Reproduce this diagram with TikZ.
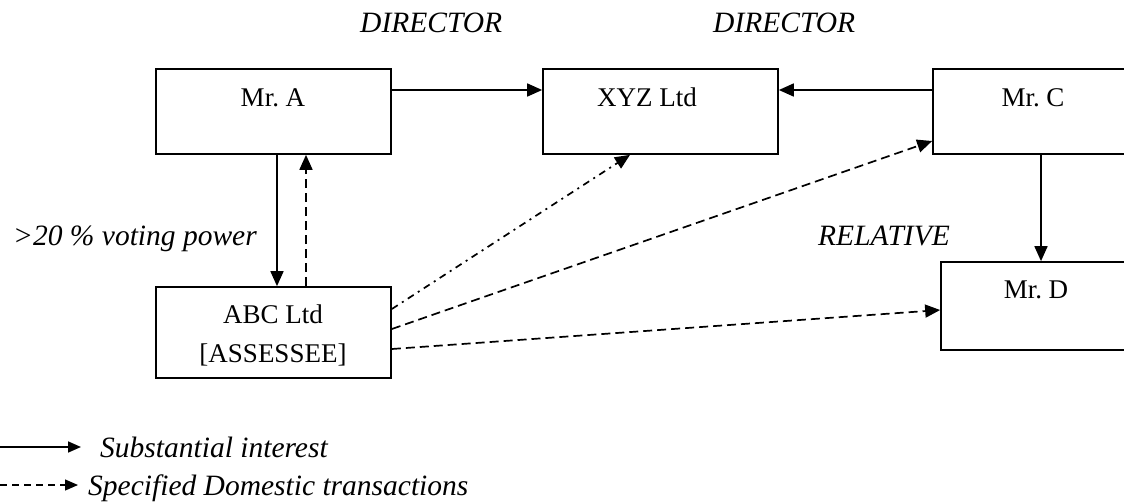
\documentclass[tikz,border=0pt]{standalone}
\usepackage{fontspec}
\setmainfont{Liberation Serif}
\usetikzlibrary{arrows.meta}
\begin{document}
\begin{tikzpicture}[x=1pt,y=-1pt,
  box/.style={draw,line width=1.7pt,inner sep=0pt},
  btext/.style={inner sep=0pt,font=\fontsize{27}{32}\selectfont},
  ltext/.style={inner sep=0pt,font=\fontsize{29.5}{34}\selectfont\itshape},
  link/.style={line width=1.7pt,-{Triangle[length=15pt,width=13pt]}},
  dashlink/.style={link,dash pattern=on 9pt off 5pt},
  dotlink/.style={link,dash pattern=on 7pt off 5pt on 2pt off 5pt}]
\useasboundingbox (0,0) rectangle (1124,501);
\clip (0,0) rectangle (1124,501);

% boxes
\node[box,minimum width=235pt,minimum height=85pt] (A) at (273.5,111.5) {};
\node[box,minimum width=235pt,minimum height=85pt] (X) at (660.5,111.5) {};
\node[box,minimum width=200pt,minimum height=85pt] (C) at (1033,111.5) {};
\node[box,minimum width=190pt,minimum height=88pt] (D) at (1036,306) {};
\node[box,minimum width=235pt,minimum height=91pt] (B) at (273.5,332.5) {};

% box texts
\node[btext,anchor=base] (tA) at (273,106) {Mr.\ A};
\node[btext,anchor=base] (tX) at (647,106) {XYZ Ltd};
\node[btext,anchor=base] (tC) at (1033,106) {Mr.\ C};
\node[btext,anchor=base] (tD) at (1036,298) {Mr.\ D};
\node[btext,anchor=base] (tB1) at (273,323) {ABC Ltd};
\node[btext,anchor=base] (tB2) at (273,362) {[ASSESSEE]};

% relation labels
\node[ltext,anchor=base west] (dir1) at (360,32) {DIRECTOR};
\node[ltext,anchor=base west] (dir2) at (713,32) {DIRECTOR};
\node[ltext,anchor=base west] (vote) at (13,245) {>20 \% voting power};
\node[ltext,anchor=base west] (rel) at (818,245) {RELATIVE};

% substantial interest
\draw[link] (A.east |- 0,90) -- (X.west |- 0,90);
\draw[link] (C.west |- 0,90) -- (X.east |- 0,90);
\draw[link] (A.south -| 277,0) -- (B.north -| 277,0);
\draw[link] (C.south -| 1041,0) -- (D.north -| 1041,0);

% specified domestic transactions
\draw[dashlink] (B.north -| 306,0) -- (A.south -| 306,0);
\draw[dotlink] (B.east |- 0,309) -- (X.south -| 630,0);
\draw[dashlink] (B.east |- 0,329) -- (C.west |- 0,141);
\draw[dashlink] (B.east |- 0,349) -- (D.west |- 0,310);

% legend
\coordinate (l1a) at (0,447);
\coordinate (l1b) at (81,447);
\coordinate (l2a) at (0,485);
\coordinate (l2b) at (78,485);
\draw[line width=1.7pt,-{Triangle[length=13pt,width=11pt]}] (l1a) -- (l1b);
\draw[line width=1.3pt,dash pattern=on 7pt off 5pt,-{Triangle[length=13pt,width=11pt]}] (l2a) -- (l2b);
\node[ltext,anchor=base west] (leg1) at (100,457) {Substantial interest};
\node[ltext,anchor=base west] (leg2) at (88,495) {Specified Domestic transactions};
\end{tikzpicture}
\end{document}
